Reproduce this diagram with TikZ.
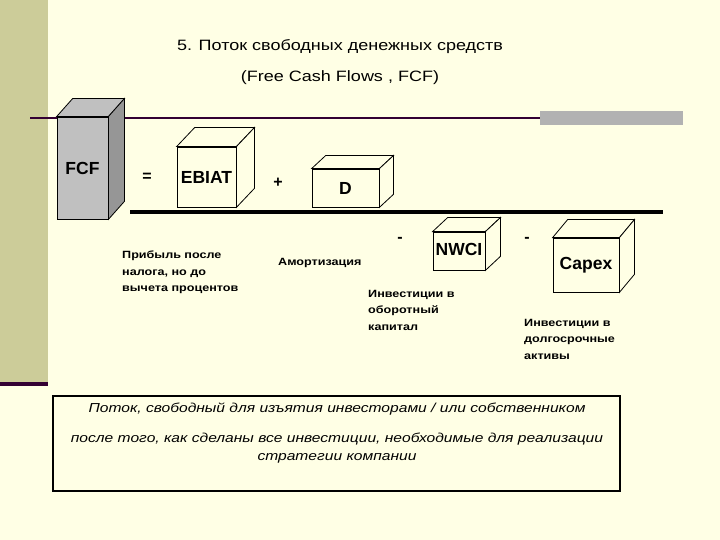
\documentclass[tikz,border=0pt]{standalone}
\usepackage{fontspec}
\setmainfont{Liberation Sans}
\newfontfamily\wideFont{Liberation Sans}[FakeStretch=1.2]
\usetikzlibrary{calc}
\definecolor{slideBg}{HTML}{FFFFE5}
\definecolor{stripeOlive}{HTML}{CCCC99}
\definecolor{darkPlum}{HTML}{330033}
\definecolor{barGray}{HTML}{B2B2B2}
\definecolor{boxGray}{HTML}{C0C0C0}
\definecolor{boxDark}{HTML}{969696}

\begin{document}
\begin{tikzpicture}
[x=1pt,y=-1pt,
face/.style={draw=black,line width=0.8pt,fill=slideBg},
grayFace/.style={face,fill=boxGray},
darkFace/.style={face,fill=boxDark},
cubeFront/.style={face,inner sep=0pt,font=\bfseries\fontsize{17.5}{20}\selectfont},
titleText/.style={inner sep=0pt,font=\wideFont\fontsize{15}{18}\selectfont},
opText/.style={inner sep=0pt,font=\bfseries\fontsize{16}{18}\selectfont},
noteText/.style={inner sep=0pt,anchor=north west,align=left,font=\wideFont\bfseries\fontsize{10.5}{16.5}\selectfont},
summaryText/.style={inner sep=0pt,align=center,font=\wideFont\itshape\fontsize{13}{18}\selectfont},
thinRule/.style={draw=darkPlum,line width=1.5pt},
thickRule/.style={draw=black,line width=4pt},
]
\fill[slideBg] (0,0) rectangle (720,540);
\fill[stripeOlive] (0,0) rectangle (48,382);
\fill[darkPlum] (0,382) rectangle (48,386);
\draw[thinRule] (30,118) -- (540,118);
\fill[barGray] (540,111) rectangle (683,125);
\draw[thickRule] (130,212) -- (663,212);
\node[titleText] (title) at (340,47) {5. Поток свободных денежных средств};
\node[titleText] (titleEn) at (340,78) {(Free Cash Flows , FCF)};
\node[cubeFront,grayFace,minimum width=51pt,minimum height=102pt,text depth=0pt] (fcf) at (82.5,168) {FCF};
\draw[grayFace] (fcf.north west) -- ($(fcf.north west)+(16,-18)$) -- ($(fcf.north east)+(16,-18)$) -- (fcf.north east) -- cycle;
\draw[darkFace] (fcf.north east) -- ($(fcf.north east)+(16,-18)$) -- ($(fcf.south east)+(16,-18)$) -- (fcf.south east) -- cycle;
\node[cubeFront,minimum width=59pt,minimum height=60pt] (ebiat) at (206.5,177) {EBIAT};
\draw[face] (ebiat.north west) -- ($(ebiat.north west)+(18,-19)$) -- ($(ebiat.north east)+(18,-19)$) -- (ebiat.north east) -- cycle;
\draw[face] (ebiat.north east) -- ($(ebiat.north east)+(18,-19)$) -- ($(ebiat.south east)+(18,-19)$) -- (ebiat.south east) -- cycle;
\node[cubeFront,minimum width=67pt,minimum height=38pt] (d) at (345.5,188) {D};
\draw[face] (d.north west) -- ($(d.north west)+(14,-13)$) -- ($(d.north east)+(14,-13)$) -- (d.north east) -- cycle;
\draw[face] (d.north east) -- ($(d.north east)+(14,-13)$) -- ($(d.south east)+(14,-13)$) -- (d.south east) -- cycle;
\node[cubeFront,minimum width=52pt,minimum height=38pt,text depth=4pt] (nwci) at (459,251) {NWCI};
\draw[face] (nwci.north west) -- ($(nwci.north west)+(15,-14)$) -- ($(nwci.north east)+(15,-14)$) -- (nwci.north east) -- cycle;
\draw[face] (nwci.north east) -- ($(nwci.north east)+(15,-14)$) -- ($(nwci.south east)+(15,-14)$) -- (nwci.south east) -- cycle;
\node[cubeFront,minimum width=66pt,minimum height=54pt] (capex) at (586,265) {Capex};
\draw[face] (capex.north west) -- ($(capex.north west)+(15,-18)$) -- ($(capex.north east)+(15,-18)$) -- (capex.north east) -- cycle;
\draw[face] (capex.north east) -- ($(capex.north east)+(15,-18)$) -- ($(capex.south east)+(15,-18)$) -- (capex.south east) -- cycle;
\node[opText] (eq) at (147,177) {=};
\node[opText] (plus) at (278,183) {+};
\node[opText] (minusA) at (400,240) {-};
\node[opText] (minusB) at (527,240) {-};
\node[noteText] (ebiatNote) at (122,251) {Прибыль после\\налога, но до\\вычета процентов};
\node[noteText] (dNote) at (278,258) {Амортизация};
\node[noteText] (nwciNote) at (368,290) {Инвестиции в\\оборотный\\капитал};
\node[noteText] (capexNote) at (524,319) {Инвестиции в\\долгосрочные\\активы};
\node[draw=black,line width=2pt,minimum width=567pt,minimum height=95pt] (summary) at (336.5,443) {};
\node[summaryText] (summaryA) at (337,409) {Поток, свободный для изъятия инвесторами / или собственником};
\node[summaryText] (summaryB) at (337,448) {после того, как сделаны все инвестиции, необходимые для реализации\\стратегии компании};
\end{tikzpicture}
\end{document}
